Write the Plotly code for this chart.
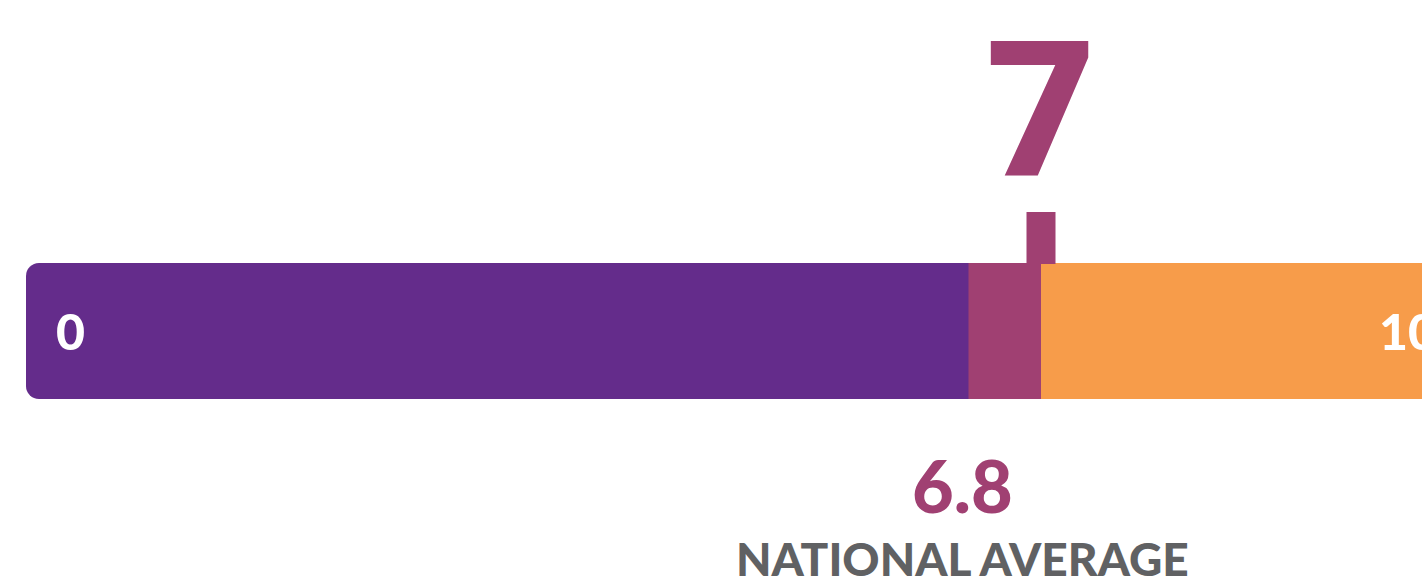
import plotly.graph_objects as go

# ---- data ----
scale_min = 0
scale_max = 10
score = 7
national_average = 6.8
band_start = 6.5          # start of the highlighted band
band_end = 7.0            # end of the highlighted band
tick_labels = ["0", "10"]
score_label = "7"
average_label = "6.8"
average_caption = "NATIONAL AVERAGE"

PURPLE = "#642C8B"
MAGENTA = "#A04072"
ORANGE = "#F79C4A"
GRAY = "#606163"
FONT = "Lato"

W, H = 1422, 580
# x-scale: 0 sits at 26 px, 10 at 1476 px (bar runs past the right edge)
px0, px10 = 26, 1476
unit = (px10 - px0) / (scale_max - scale_min)
x_lo = scale_min - px0 / unit
x_hi = x_lo + W / unit

bar_center, bar_thick = 331, 136
tick_center, tick_thick = 238, 52
tick_width = 0.2

fig = go.Figure()
# full track (rounded), purple
fig.add_trace(go.Bar(
    y=[bar_center], x=[scale_max - scale_min], base=[scale_min], width=[bar_thick],
    orientation="h", marker=dict(color=PURPLE, cornerradius=13, line=dict(width=0)),
    hoverinfo="skip", showlegend=False))
# orange part above the score
fig.add_trace(go.Bar(
    y=[bar_center], x=[scale_max - band_end], base=[band_end], width=[bar_thick],
    orientation="h", marker=dict(color=ORANGE, line=dict(width=0)),
    hoverinfo="skip", showlegend=False))
# magenta band
fig.add_trace(go.Bar(
    y=[bar_center], x=[band_end - band_start], base=[band_start], width=[bar_thick],
    orientation="h", marker=dict(color=MAGENTA, line=dict(width=0)),
    hoverinfo="skip", showlegend=False))
# score tick
fig.add_trace(go.Bar(
    y=[tick_center], x=[tick_width], base=[score - tick_width / 2], width=[tick_thick],
    orientation="h", marker=dict(color=MAGENTA, line=dict(width=0)),
    hoverinfo="skip", showlegend=False))

ann = []
ann.append(dict(x=score, y=111, text=score_label, showarrow=False, xanchor="center",
                yanchor="middle", font=dict(family="Roboto", size=190, color=MAGENTA, weight=900)))
ann.append(dict(x=scale_min, y=bar_center, text=tick_labels[0], showarrow=False, xanchor="left",
                xshift=28, yanchor="middle", font=dict(family=FONT, size=50, color="white", weight=900)))
# "10" label: its right end runs past the edge, so anchor its left side inside the range
ten_left = (1377 - px0) / unit
ann.append(dict(x=ten_left, y=bar_center, text=tick_labels[1], showarrow=False, xanchor="left",
                yanchor="middle", font=dict(family=FONT, size=50, color="white", weight=900)))
lab_x = (962 - px0) / unit
ann.append(dict(x=lab_x, y=485, text=average_label, showarrow=False, xanchor="center",
                yanchor="middle", font=dict(family=FONT, size=72, color=MAGENTA, weight=900)))
ann.append(dict(x=lab_x, y=558, text=average_caption, showarrow=False, xanchor="center",
                yanchor="middle", font=dict(family=FONT, size=46, color=GRAY, weight=900)))

fig.update_layout(
    width=W, height=H, margin=dict(l=0, r=0, t=0, b=0),
    paper_bgcolor="white", plot_bgcolor="white", barmode="overlay",
    xaxis=dict(range=[x_lo, x_hi], visible=False, fixedrange=True),
    yaxis=dict(range=[H, 0], visible=False, fixedrange=True),
    annotations=ann, showlegend=False,
)
fig.write_html(
    "out.html",
    config={"displayModeBar": False, "staticPlot": True},
    post_script="document.body.style.margin='0';document.body.style.overflow='hidden';",
)
